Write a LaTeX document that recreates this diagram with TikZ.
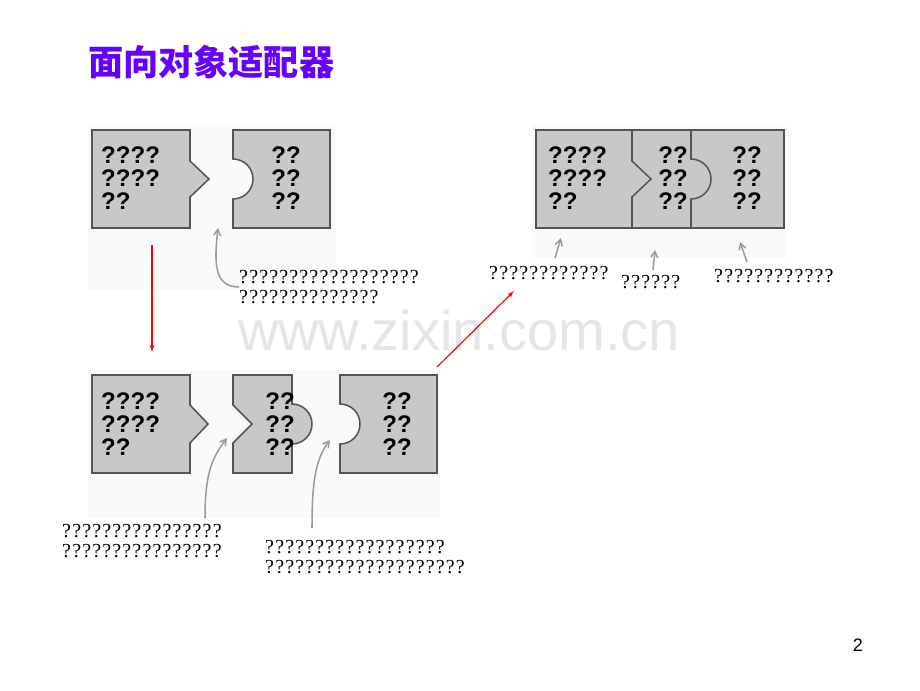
\documentclass[tikz,border=0pt]{standalone}
\usepackage{xcolor}
\usepackage{tikz}
\usepackage{fontspec}
\setmainfont{Liberation Sans}
\newfontfamily\cjk{Noto Sans CJK SC}
\newfontfamily\qfont[LetterSpace=6]{Liberation Serif}
\usetikzlibrary{shapes,arrows}
\definecolor{titleblue}{RGB}{102,0,255}
\definecolor{piecegray}{RGB}{200,200,200}
\definecolor{edgegray}{RGB}{85,85,85}
\definecolor{hintgray}{RGB}{155,155,155}
\tikzstyle{piece} = [draw=edgegray, fill=piecegray, line width=1.3pt]
\tikzstyle{seam} = [draw=edgegray, line width=1.3pt]
\tikzstyle{panel} = [fill=black!2]
\tikzstyle{words} = [font=\bfseries\fontsize{20.5}{19.6}\selectfont,
    align=left, inner sep=0pt]
\tikzstyle{note} = [font=\qfont\fontsize{17}{17}\selectfont,
    align=left, inner sep=0pt]
\tikzstyle{redline} = [draw=red, line width=1pt, -latex']
\tikzstyle{hint} = [draw=hintgray, line width=1.3pt, -angle 60]

\begin{document}
\begin{tikzpicture}[x=0.03cm, y=-0.03cm]
    \useasboundingbox (0,0) rectangle (920,690);
    \fill [white] (0,0) rectangle (920,690);
    \path [panel] (88,125) rectangle (336,290);
    \path [panel] (88,370) rectangle (440,518);
    \path [panel] (532,125) rectangle (786,258);

    % Draw pieces
    \path [piece] (92,130) -- (190,130) -- (190,161) -- (209,179) -- (190,197)
        -- (190,228) -- (92,228) -- cycle;
    \path [piece] (233,130) -- (330,130) -- (330,228) -- (233,228) -- (233,199)
        arc (90:-90:20) -- cycle;
    \path [piece] (92,375) -- (190,375) -- (190,405) -- (208,424) -- (190,443)
        -- (190,473) -- (92,473) -- cycle;
    \path [piece] (233,375) -- (292,375) -- (292,404) arc (-90:90:20)
        -- (292,473) -- (233,473) -- (233,443) -- (252,424) -- (233,405) -- cycle;
    \path [piece] (340,375) -- (437,375) -- (437,473) -- (340,473) -- (340,444)
        arc (90:-90:20) -- cycle;
    \path [piece] (536,130) rectangle (784,228);
    \path [seam] (632,130) -- (632,161) -- (651,179) -- (632,197) -- (632,228);
    \path [seam] (691,130) -- (691,159) arc (-90:90:20) -- (691,228);

    % Place nodes
    \node [font=\cjk\bfseries\fontsize{30}{30}\selectfont, text=titleblue,
        anchor=west, inner sep=0pt] (title) at (88,62) {面向对象适配器};
    \node [font=\fontsize{47.8}{48}\selectfont, text=black!10, inner sep=0pt]
        (mark) at (459,330) {www.zixin.com.cn};

    \node [words, anchor=west] (client) at (101,178) {????\\????\\??};
    \node [words, align=center] (server) at (286,178) {??\\??\\??};
    \node [words, anchor=west] (client2) at (101,424) {????\\????\\??};
    \node [words, align=center] (adapter) at (280,424) {??\\??\\??};
    \node [words, align=center] (server2) at (397,424) {??\\??\\??};
    \node [words, anchor=west] (client3) at (548,178) {????\\????\\??};
    \node [words, align=center] (adapter3) at (673,178) {??\\??\\??};
    \node [words, align=center] (server3) at (747,178) {??\\??\\??};

    \node [note, anchor=west] (mismatch) at (239,287)
        {??????????????????\\??????????????};
    \node [note, anchor=west] (fit_left) at (62,541)
        {????????????????\\????????????????};
    \node [note, anchor=west] (fit_right) at (265,557)
        {??????????????????\\????????????????????};
    \node [note, anchor=west] (tag_client) at (489,273) {????????????};
    \node [note, anchor=west] (tag_adapter) at (621,282) {??????};
    \node [note, anchor=west] (tag_server) at (714,276) {????????????};

    \node [font=\fontsize{15.4}{16}\selectfont] (pageno) at (858,645) {2};

    \coordinate (gap) at (218,228);
    \coordinate (gap_left) at (227,438);
    \coordinate (gap_right) at (330,440);
    \coordinate (from_left) at (205,518);
    \coordinate (from_right) at (312,528);
    \coordinate (down_start) at (152,245);
    \coordinate (down_end) at (152,352);
    \coordinate (up_start) at (437,367);
    \coordinate (up_end) at (514,291);
    \coordinate (c_tail) at (555,258);
    \coordinate (c_head) at (561,238);
    \coordinate (a_tail) at (653,270);
    \coordinate (a_head) at (655,250);
    \coordinate (s_tail) at (747,262);
    \coordinate (s_head) at (740,242);

    \path [hint] (mismatch.west) .. controls +(-25,0) and +(-4,35) .. (gap);
    \path [hint] (from_left) .. controls +(0,-45) and +(-15,20) .. (gap_left);
    \path [hint] (from_right) .. controls +(0,-45) and +(-15,20) .. (gap_right);
    \path [hint] (c_tail) -- (c_head);
    \path [hint] (a_tail) -- (a_head);
    \path [hint] (s_tail) -- (s_head);
    \path [redline] (down_start) -- (down_end);
    \path [redline] (up_start) -- (up_end);
\end{tikzpicture}
\end{document}
